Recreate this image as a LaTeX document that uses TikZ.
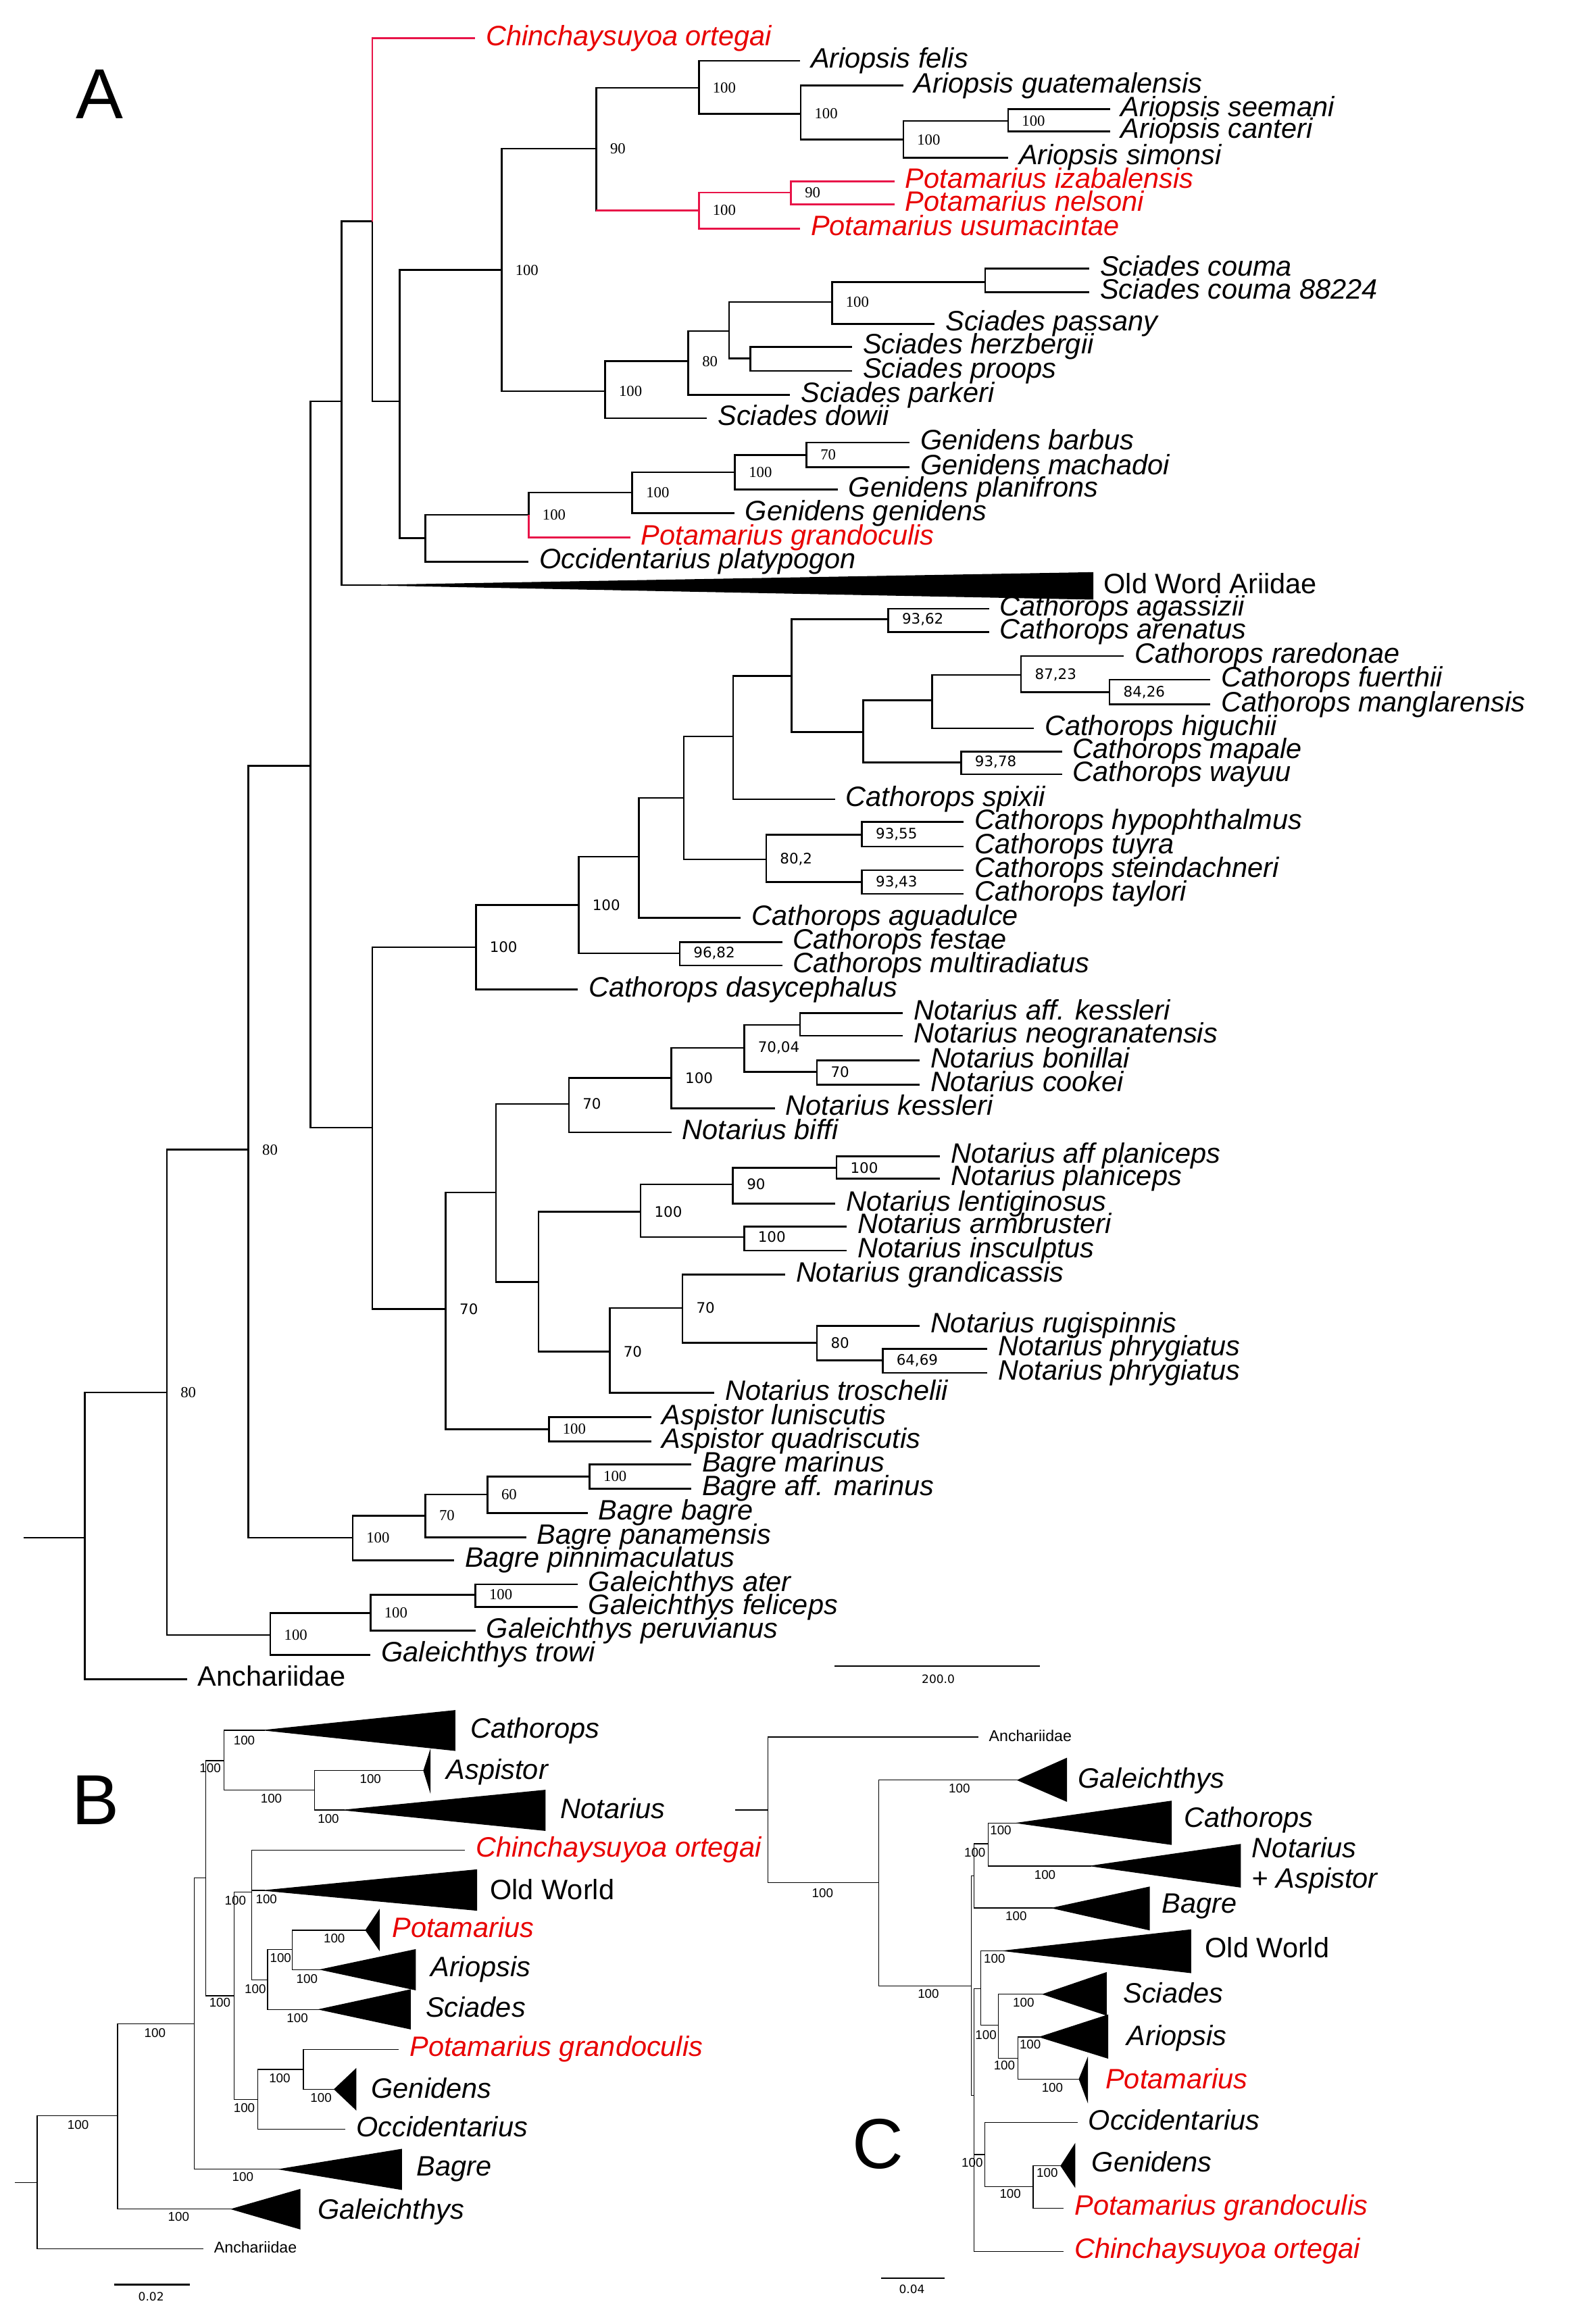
\documentclass[tikz,border=0pt]{standalone}
\usepackage{fontspec}
\setmainfont{Liberation Sans}
\newfontfamily\suprm{Liberation Serif}
\newfontfamily\supsf{DejaVu Sans}
\usetikzlibrary{positioning}
\definecolor{txtred}{RGB}{232,0,0}
\definecolor{brred}{RGB}{232,20,72}

\begin{document}
\begin{tikzpicture}[x=0.5pt, y=-0.5pt,
  br/.style = {line width=0.6pt},
  brR/.style = {br, draw=brred},
  bc/.style = {line width=0.3pt},
  tip/.style = {anchor=west, inner xsep=3.5pt, inner ysep=0pt,
                text height=6.8pt, text depth=2pt,
                font=\fontsize{9.5}{11}\selectfont\itshape},
  tipR/.style = {tip, text=txtred},
  grp/.style = {tip, font=\fontsize{9.5}{11}\selectfont},
  small/.style = {tip, text height=3.9pt, text depth=1.1pt,
                  font=\fontsize{5.3}{6}\selectfont},
  sup/.style = {anchor=west, inner sep=0pt, xshift=4.5pt,
                font=\suprm\fontsize{5.2}{6}\selectfont},
  supS/.style = {sup, font=\supsf\fontsize{4.9}{6}\selectfont},
  bcsup/.style = {inner sep=0pt, font=\fontsize{4.3}{5}\selectfont},
  scl/.style = {inner sep=0pt, font=\supsf\fontsize{3.9}{5}\selectfont},
  clade/.style = {fill=black, draw=black, line width=0.3pt},
  panel/.style = {inner sep=0pt, font=\fontsize{24}{28}\selectfont}
]
\useasboundingbox (0,0) rectangle (1081,1568);

%% ---------------- tree A ----------------
\coordinate (rootA) at (15.8,1042);
\coordinate (n57) at (57.5,1042);
\coordinate (n113) at (113,943.5);
\coordinate (n168) at (168.3,779);
\coordinate (n210) at (210.5,519);
\coordinate (n231) at (231.5,272);
\coordinate (n252) at (252.3,150);
\coordinate (n270) at (270.7,272);
\coordinate (n340) at (339.8,183);
\coordinate (n404) at (404,100.7);
\coordinate (n473a) at (473.5,59.5);
\coordinate (n542) at (542.5,77);
\coordinate (n612) at (612,94.6);
\coordinate (n683) at (683,82);
\coordinate (n473b) at (473.5,142.6);
\coordinate (n536) at (536,130.4);
\coordinate (n410) at (410,265);
\coordinate (n466) at (466.4,244.8);
\coordinate (n494) at (494,224.3);
\coordinate (n564) at (563.7,204.7);
\coordinate (n667) at (667.5,191);
\coordinate (n508) at (508.5,243);
\coordinate (n288) at (288.3,364.6);
\coordinate (n358) at (358.2,348.9);
\coordinate (n428) at (428.4,333.8);
\coordinate (n498) at (498,320);
\coordinate (n546) at (546.5,308.2);
\coordinate (owtip) at (258,396.5);
% Cathorops
\coordinate (nCN) at (252.3,764);
\coordinate (nCath) at (322.4,641.8);
\coordinate (n392) at (392,613.3);
\coordinate (n433) at (432.8,580.5);
\coordinate (n463) at (463.3,540.7);
\coordinate (n497) at (496.7,499);
\coordinate (n536c) at (536.2,458);
\coordinate (n602) at (601.8,419.7);
\coordinate (n585) at (584.8,496);
\coordinate (n632) at (631.5,474.5);
\coordinate (n692) at (691.8,457.3);
\coordinate (n752) at (751.8,469);
\coordinate (n651) at (651.2,516.5);
\coordinate (n519) at (519.1,582.4);
\coordinate (n584a) at (584,565.5);
\coordinate (n584b) at (584,597.7);
\coordinate (n460) at (460.5,646);
% Notarius
\coordinate (nNot) at (302,887);
\coordinate (n336) at (336,808);
\coordinate (n385) at (385.4,748);
\coordinate (n455) at (454.9,730.3);
\coordinate (n504) at (504.2,710);
\coordinate (n542b) at (542.1,694.5);
\coordinate (n553) at (553.5,726.2);
\coordinate (n365) at (364.9,868.7);
\coordinate (n434) at (434,821.1);
\coordinate (n497b) at (496.6,802.5);
\coordinate (n567) at (566.8,791.3);
\coordinate (n504b) at (504.2,838.3);
\coordinate (n413) at (413.1,915.8);
\coordinate (n462) at (462.4,886.3);
\coordinate (n553b) at (553.5,909.8);
\coordinate (n598) at (598,921.9);
\coordinate (nAsp) at (371.9,968.4);
% Bagre, Galeichthys
\coordinate (nBag) at (238.9,1042);
\coordinate (n288b) at (288.2,1027);
\coordinate (n330) at (330.3,1012.6);
\coordinate (n400) at (399.5,1000.5);
\coordinate (nGal) at (183.2,1107.9);
\coordinate (n251) at (251,1093);
\coordinate (n322) at (322.1,1080.6);

\node[panel] (labA) at (67.5,64) {A};

\node[tipR] (chin) at (322,26) {Chinchaysuyoa ortegai};
\node[tip] (felis) at (542,41.2) {Ariopsis felis};
\node[tip] (guat) at (612,58) {Ariopsis guatemalensis};
\node[tip] (seem) at (752,74) {Ariopsis seemani};
\node[tip] (cant) at (752,89) {Ariopsis canteri};
\node[tip] (simo) at (683,106.8) {Ariopsis simonsi};
\node[tipR] (izab) at (606,122.8) {Potamarius izabalensis};
\node[tipR] (nels) at (606,138.4) {Potamarius nelsoni};
\node[tipR] (usum) at (542,154.9) {Potamarius usumacintae};
\node[tip] (coum) at (738,182) {Sciades couma};
\node[tip] (coum2) at (738,198) {Sciades couma 88224};
\node[tip] (pass) at (633.3,219.4) {Sciades passany};
\node[tip] (herz) at (577.3,235) {Sciades herzbergii};
\node[tip] (proo) at (577.3,251.3) {Sciades proops};
\node[tip] (park) at (535.3,267.7) {Sciades parkeri};
\node[tip] (dowi) at (479,283.4) {Sciades dowii};
\node[tip] (barb) at (616.2,299.8) {Genidens barbus};
\node[tip] (mach) at (616.2,316.6) {Genidens machadoi};
\node[tip] (plan) at (567.6,331.8) {Genidens planifrons};
\node[tip] (geni) at (497.5,347.8) {Genidens genidens};
\node[tipR] (gran) at (427,364.3) {Potamarius grandoculis};
\node[tip] (plat) at (358.2,380.6) {Occidentarius platypogon};
\node[grp] (owA) at (740.5,397.5) {Old Word Ariidae};

\node[tip] (agas) at (670,412.4) {Cathorops agassizii};
\node[tip] (aren) at (670,428.2) {Cathorops arenatus};
\node[tip] (rare) at (761.3,444.6) {Cathorops raredonae};
\node[tip] (fuer) at (820,460.6) {Cathorops fuerthii};
\node[tip] (mang) at (820,477.3) {Cathorops manglarensis};
\node[tip] (higu) at (700.5,493.6) {Cathorops higuchii};
\node[tip] (mapa) at (719.5,509.3) {Cathorops mapale};
\node[tip] (wayu) at (719.5,524.7) {Cathorops wayuu};
\node[tip] (spix) at (565.7,541.5) {Cathorops spixii};
\node[tip] (hypo) at (653,557) {Cathorops hypophthalmus};
\node[tip] (tuyr) at (653,573.7) {Cathorops tuyra};
\node[tip] (stei) at (653,589.7) {Cathorops steindachneri};
\node[tip] (tayl) at (653,605.6) {Cathorops taylori};
\node[tip] (agua) at (501.9,622) {Cathorops aguadulce};
\node[tip] (fest) at (530,638.4) {Cathorops festae};
\node[tip] (mult) at (530,654.2) {Cathorops multiradiatus};
\node[tip] (dasy) at (391.5,670.5) {Cathorops dasycephalus};

\node[tip] (akes) at (611.6,686.4) {Notarius aff. kessleri};
\node[tip] (neog) at (611.6,701.8) {Notarius neogranatensis};
\node[tip] (boni) at (623,718.6) {Notarius bonillai};
\node[tip] (cook) at (623,734.9) {Notarius cookei};
\node[tip] (kess) at (525,751) {Notarius kessleri};
\node[tip] (biff) at (454.9,767.2) {Notarius biffi};
\node[tip] (apla) at (637,783.5) {Notarius aff planiceps};
\node[tip] (pla) at (637,798.5) {Notarius planiceps};
\node[tip] (lent) at (566,815.7) {Notarius lentiginosus};
\node[tip] (armb) at (573.6,831.1) {Notarius armbrusteri};
\node[tip] (insc) at (573.6,847.4) {Notarius insculptus};
\node[tip] (grca) at (531.9,863.7) {Notarius grandicassis};
\node[tip] (rugi) at (623,898.4) {Notarius rugispinnis};
\node[tip] (phr1) at (669,914) {Notarius phrygiatus};
\node[tip] (phr2) at (669,930.2) {Notarius phrygiatus};
\node[tip] (tros) at (484,943.8) {Notarius troschelii};
\node[tip] (luni) at (441.1,960.3) {Aspistor luniscutis};
\node[tip] (quad) at (441.1,976.7) {Aspistor quadriscutis};

\node[tip] (bmar) at (468.3,992.4) {Bagre marinus};
\node[tip] (bamr) at (468.3,1008.7) {Bagre aff. marinus};
\node[tip] (bbag) at (398.2,1025.2) {Bagre bagre};
\node[tip] (bpan) at (356.5,1041.7) {Bagre panamensis};
\node[tip] (bpin) at (307.6,1057.2) {Bagre pinnimaculatus};
\node[tip] (gate) at (391.3,1073.5) {Galeichthys ater};
\node[tip] (gfel) at (391.3,1088.9) {Galeichthys feliceps};
\node[tip] (gper) at (322.1,1105) {Galeichthys peruvianus};
\node[tip] (gtro) at (251,1121.3) {Galeichthys trowi};
\node[grp] (anA) at (126.7,1137.8) {Anchariidae};

\draw[br] (rootA) -- (n57)
  (n57) |- (n113) (n57) |- (anA)
  (n113) |- (n168) (n113) |- (nGal)
  (n168) |- (n210) (n168) |- (nBag)
  (n210) |- (n231) (n210) |- (nCN)
  (n231) |- (n252) (n231) |- (owtip)
  (n252) |- (n270)
  (n270) |- (n340) (n270) |- (n288)
  (n340) |- (n404) (n340) |- (n410)
  (n404) |- (n473a) (n404) |- (n473b)
  (n473a) |- (felis) (n473a) |- (n542)
  (n542) |- (guat) (n542) |- (n612)
  (n612) |- (n683) (n612) |- (simo)
  (n683) |- (seem) (n683) |- (cant)
  (n410) |- (n466) (n410) |- (dowi)
  (n466) |- (n494) (n466) |- (park)
  (n494) |- (n564) (n494) |- (n508)
  (n564) |- (n667) (n564) |- (pass)
  (n667) |- (coum) (n667) |- (coum2)
  (n508) |- (herz) (n508) |- (proo)
  (n288) |- (n358) (n288) |- (plat)
  (n358) |- (n428)
  (n428) |- (n498) (n428) |- (geni)
  (n498) |- (n546) (n498) |- (plan)
  (n546) |- (barb) (n546) |- (mach);
\draw[br] (nCN) |- (nCath) (nCN) |- (nNot)
  (nCath) |- (n392) (nCath) |- (dasy)
  (n392) |- (n433) (n392) |- (n460)
  (n433) |- (n463) (n433) |- (agua)
  (n463) |- (n497) (n463) |- (n519)
  (n497) |- (n536c) (n497) |- (spix)
  (n536c) |- (n602) (n536c) |- (n585)
  (n602) |- (agas) (n602) |- (aren)
  (n585) |- (n632) (n585) |- (n651)
  (n632) |- (n692) (n632) |- (higu)
  (n692) |- (rare) (n692) |- (n752)
  (n752) |- (fuer) (n752) |- (mang)
  (n651) |- (mapa) (n651) |- (wayu)
  (n519) |- (n584a) (n519) |- (n584b)
  (n584a) |- (hypo) (n584a) |- (tuyr)
  (n584b) |- (stei) (n584b) |- (tayl)
  (n460) |- (fest) (n460) |- (mult);
\draw[br] (nNot) |- (n336) (nNot) |- (nAsp)
  (n336) |- (n385) (n336) |- (n365)
  (n385) |- (n455) (n385) |- (biff)
  (n455) |- (n504) (n455) |- (kess)
  (n504) |- (n542b) (n504) |- (n553)
  (n542b) |- (akes) (n542b) |- (neog)
  (n553) |- (boni) (n553) |- (cook)
  (n365) |- (n434) (n365) |- (n413)
  (n434) |- (n497b) (n434) |- (n504b)
  (n497b) |- (n567) (n497b) |- (lent)
  (n567) |- (apla) (n567) |- (pla)
  (n504b) |- (armb) (n504b) |- (insc)
  (n413) |- (n462) (n413) |- (tros)
  (n462) |- (grca) (n462) |- (n553b)
  (n553b) |- (rugi) (n553b) |- (n598)
  (n598) |- (phr1) (n598) |- (phr2)
  (nAsp) |- (luni) (nAsp) |- (quad);
\draw[br] (nBag) |- (n288b) (nBag) |- (bpin)
  (n288b) |- (n330) (n288b) |- (bpan)
  (n330) |- (n400) (n330) |- (bbag)
  (n400) |- (bmar) (n400) |- (bamr)
  (nGal) |- (n251) (nGal) |- (gtro)
  (n251) |- (n322) (n251) |- (gper)
  (n322) |- (gate) (n322) |- (gfel);
% red lineages
\draw[brR] (n252) |- (chin)
  (n404 |- n473b) -- (n473b)
  (n473b) |- (n536) (n473b) |- (usum)
  (n536) |- (izab) (n536) |- (nels)
  (n358) |- (gran);
\fill[clade] (owtip) -- (740.5,388) -- (740.5,406) -- cycle;

\node[sup] (s404) at (n404) {90};
\node[sup] (s473a) at (n473a) {100};
\node[sup] (s542) at (n542) {100};
\node[sup] (s612) at (n612) {100};
\node[sup] (s683) at (n683) {100};
\node[sup] (s473b) at (n473b) {100};
\node[sup] (s536) at (n536) {90};
\node[sup] (s340) at (n340) {100};
\node[sup] (s410) at (n410) {100};
\node[sup] (s466) at (n466) {80};
\node[sup] (s564) at (n564) {100};
\node[sup] (s358) at (n358) {100};
\node[sup] (s428) at (n428) {100};
\node[sup] (s498) at (n498) {100};
\node[sup] (s546) at (n546) {70};
\node[supS] (s602) at (n602) {93,62};
\node[supS] (s692) at (n692) {87,23};
\node[supS] (s752) at (n752) {84,26};
\node[supS] (s651) at (n651) {93,78};
\node[supS] (s519) at (n519) {80,2};
\node[supS] (s584a) at (n584a) {93,55};
\node[supS] (s584b) at (n584b) {93,43};
\node[supS] (s392) at (n392) {100};
\node[supS] (sCath) at (nCath) {100};
\node[supS] (s460) at (n460) {96,82};
\node[supS] (s385) at (n385) {70};
\node[supS] (s455) at (n455) {100};
\node[supS] (s504) at (n504) {70,04};
\node[supS] (s553) at (n553) {70};
\node[supS] (s497b) at (n497b) {90};
\node[supS] (s567) at (n567) {100};
\node[supS] (s434) at (n434) {100};
\node[supS] (s504b) at (n504b) {100};
\node[supS] (sNot) at (nNot) {70};
\node[supS] (s462) at (n462) {70};
\node[supS] (s413) at (n413) {70};
\node[supS] (s553b) at (n553b) {80};
\node[supS] (s598) at (n598) {64,69};
\node[sup] (sAsp) at (nAsp) {100};
\node[sup] (s400) at (n400) {100};
\node[sup] (s330) at (n330) {60};
\node[sup] (s288b) at (n288b) {70};
\node[sup] (sBag) at (nBag) {100};
\node[sup] (s322) at (n322) {100};
\node[sup] (s251) at (n251) {100};
\node[sup] (sGal) at (nGal) {100};
\node[sup] (s168) at (n168) {80};
\node[sup] (s113) at (n113) {80};

\coordinate (sbA1) at (565.5,1128.9);
\coordinate (sbA2) at (704.4,1128.9);
\draw[line width=0.4pt] (sbA1) -- (sbA2);
\node[scl] (sbAl) at (635.7,1138) {200.0};

%% ---------------- tree B ----------------
\node[panel] (labB) at (64.6,1220) {B};
\coordinate (rootB) at (10,1479);
\coordinate (nB0) at (25.2,1479);
\coordinate (nB1) at (79.6,1433.7);
\coordinate (nB2) at (131.6,1371.2);
\coordinate (nB3) at (139.3,1272.6);
\coordinate (nB4) at (151.8,1193);
\coordinate (nB6) at (213.2,1213.1);
\coordinate (nB5) at (158.5,1352.4);
\coordinate (nB7) at (170.5,1282.2);
\coordinate (nB9) at (181.3,1341.7);
\coordinate (nB10) at (198.1,1321.1);
\coordinate (nB8) at (174.6,1422.6);
\coordinate (nB11) at (205.5,1402.3);
\coordinate (cathB) at (179.6,1172.4);
\coordinate (aspB) at (287.1,1199.8);
\coordinate (notB) at (233.4,1226.5);
\coordinate (owB) at (179.6,1281);
\coordinate (potB) at (247.8,1307.9);
\coordinate (ariB) at (217.6,1334.6);
\coordinate (sciB) at (216.6,1361.6);
\coordinate (genB) at (226.6,1415.7);
\coordinate (bagB) at (189.7,1469.9);
\coordinate (galB) at (157.1,1496.9);

\node[tipR] (chinB) at (315,1253.7) {Chinchaysuyoa ortegai};
\node[tipR] (granB) at (270.3,1388.7) {Potamarius grandoculis};
\node[tip] (occB) at (234,1442.9) {Occidentarius};
\node[small] (anB) at (137.7,1523.7) {Anchariidae};

\draw[bc] (rootB) -- (nB0)
  (nB0) |- (nB1) (nB0) |- (anB)
  (nB1) |- (nB2) (nB1) |- (galB)
  (nB2) |- (nB3) (nB2) |- (bagB)
  (nB3) |- (nB4) (nB3) |- (nB5)
  (nB4) |- (cathB) (nB4) |- (nB6)
  (nB6) |- (aspB) (nB6) |- (notB)
  (nB5) |- (nB7) (nB5) |- (nB8)
  (nB7) |- (chinB) (nB7) |- (owB) (nB7) |- (nB9)
  (nB9) |- (nB10) (nB9) |- (sciB)
  (nB10) |- (potB) (nB10) |- (ariB)
  (nB8) |- (nB11) (nB8) |- (occB)
  (nB11) |- (granB) (nB11) |- (genB);
\fill[clade] (cathB) -- (308.2,1159.1) -- (308.2,1186.1) -- cycle;
\fill[clade] (aspB) -- (291.4,1186.6) -- (291.4,1213.6) -- cycle;
\fill[clade] (notB) -- (369.3,1213.1) -- (369.3,1240.3) -- cycle;
\fill[clade] (owB) -- (323,1267) -- (323,1294.4) -- cycle;
\fill[clade] (potB) -- (256.9,1294.4) -- (256.9,1321.1) -- cycle;
\fill[clade] (ariB) -- (281.4,1321.1) -- (281.4,1348.3) -- cycle;
\fill[clade] (sciB) -- (278,1348.3) -- (278,1374.8) -- cycle;
\fill[clade] (genB) -- (241.1,1402) -- (241.1,1429.4) -- cycle;
\fill[clade] (bagB) -- (272,1456.4) -- (272,1483.6) -- cycle;
\fill[clade] (galB) -- (203.2,1483.6) -- (203.2,1510.3) -- cycle;

\node[tip] (cathBl) at (311.3,1173) {Cathorops};
\node[tip] (aspBl) at (295.2,1200.6) {Aspistor};
\node[tip] (notBl) at (372.4,1227.3) {Notarius};
\node[grp] (owBl) at (324.7,1282.2) {Old World};
\node[tipR] (potBl) at (258.3,1308) {Potamarius};
\node[tip] (ariBl) at (284.4,1334.3) {Ariopsis};
\node[tip] (sciBl) at (281.1,1362) {Sciades};
\node[tip] (genBl) at (244.2,1417) {Genidens};
\node[tip] (bagBl) at (275,1469.5) {Bagre};
\node[tip] (galBl) at (207.9,1499) {Galeichthys};

\node[bcsup] (b1) at (52.9,1440) {100};
\node[bcsup] (b2) at (105,1377.6) {100};
\node[bcsup] (b3) at (121,1501.9) {100};
\node[bcsup] (b4) at (164.5,1475.2) {100};
\node[bcsup] (b5) at (165.5,1179.3) {100};
\node[bcsup] (b6) at (142.4,1198.3) {100};
\node[bcsup] (b7) at (183.8,1218.9) {100};
\node[bcsup] (b8) at (251,1205.2) {100};
\node[bcsup] (b9) at (222.5,1232.3) {100};
\node[bcsup] (b10) at (149,1357) {100};
\node[bcsup] (b11) at (165.5,1428.2) {100};
\node[bcsup] (b12) at (159.5,1287.6) {100};
\node[bcsup] (b13) at (180.5,1286.8) {100};
\node[bcsup] (b14) at (173,1347.8) {100};
\node[bcsup] (b15) at (190.1,1326.9) {100};
\node[bcsup] (b16) at (226.5,1313.5) {100};
\node[bcsup] (b17) at (208,1341) {100};
\node[bcsup] (b18) at (201.5,1367.6) {100};
\node[bcsup] (b19) at (189.5,1408) {100};
\node[bcsup] (b20) at (217.5,1421.5) {100};

\coordinate (sbB1) at (77.2,1548.1);
\coordinate (sbB2) at (128.6,1548.1);
\draw[line width=0.5pt] (sbB1) -- (sbB2);
\node[scl] (sbBl) at (102.4,1556.1) {0.02};

%% ---------------- tree C ----------------
\node[panel] (labC) at (595,1453) {C};
\coordinate (rootC) at (498,1226.5);
\coordinate (nC0) at (520.4,1226.5);
\coordinate (nC1) at (595.3,1275.8);
\coordinate (nC2) at (658,1345.8);
\coordinate (nC3) at (660,1271);
\coordinate (nC5) at (669.4,1249.4);
\coordinate (nC4) at (660,1420);
\coordinate (nC6) at (664.5,1347.4);
\coordinate (nC8) at (676.5,1372.2);
\coordinate (nC9) at (689.6,1394.6);
\coordinate (nC7) at (667.2,1460);
\coordinate (nC10) at (700,1481.6);
\coordinate (galC) at (689.6,1206.2);
\coordinate (cathC) at (689.6,1235.3);
\coordinate (notC) at (739.4,1264.4);
\coordinate (bagC) at (713.2,1292.9);
\coordinate (owC) at (680.6,1321.9);
\coordinate (sciC) at (706.8,1351.3);
\coordinate (ariC) at (704.6,1380.3);
\coordinate (potC) at (731.2,1408.8);
\coordinate (genC) at (718.8,1467.6);

\node[small] (anC) at (662.7,1177) {Anchariidae};
\node[tip] (occC) at (730,1438.3) {Occidentarius};
\node[tipR] (granC) at (720.7,1496.2) {Potamarius grandoculis};
\node[tipR] (chinC) at (720.7,1525.5) {Chinchaysuyoa ortegai};

\draw[bc] (rootC) -- (nC0)
  (nC0) |- (anC) (nC0) |- (nC1)
  (nC1) |- (galC) (nC1) |- (nC2)
  (nC2) |- (nC3) (nC2) |- (nC4)
  (nC3) |- (nC5) (nC3) |- (bagC)
  (nC5) |- (cathC) (nC5) |- (notC)
  (nC4) |- (nC6) (nC4) |- (nC7) (nC4) |- (chinC)
  (nC6) |- (owC) (nC6) |- (nC8)
  (nC8) |- (sciC) (nC8) |- (nC9)
  (nC9) |- (ariC) (nC9) |- (potC)
  (nC7) |- (occC) (nC7) |- (nC10)
  (nC10) |- (genC) (nC10) |- (granC);
\fill[clade] (galC) -- (722.6,1191.5) -- (722.6,1220.5) -- cycle;
\fill[clade] (cathC) -- (793.6,1220.5) -- (793.6,1249.8) -- cycle;
\fill[clade] (notC) -- (840.4,1249.8) -- (840.4,1278.7) -- cycle;
\fill[clade] (bagC) -- (778.7,1278.7) -- (778.7,1307.7) -- cycle;
\fill[clade] (owC) -- (806.7,1307.7) -- (806.7,1336.7) -- cycle;
\fill[clade] (sciC) -- (749.5,1336.7) -- (749.5,1365.4) -- cycle;
\fill[clade] (ariC) -- (750.6,1365.4) -- (750.6,1394.6) -- cycle;
\fill[clade] (potC) -- (736.8,1395) -- (736.8,1423.7) -- cycle;
\fill[clade] (genC) -- (728.2,1453.1) -- (728.2,1481.6) -- cycle;

\node[tip] (galCl) at (723,1206.7) {Galeichthys};
\node[tip] (cathCl) at (794.8,1233.4) {Cathorops};
\node[tip] (notCl) at (840.9,1254) {Notarius};
\node[tip] (aspCl) at (840.9,1274.6) {+ Aspistor};
\node[tip] (bagCl) at (779.9,1291.4) {Bagre};
\node[grp] (owCl) at (809.1,1321.9) {Old World};
\node[tip] (sciCl) at (753.7,1352.4) {Sciades};
\node[tip] (ariCl) at (756,1381.4) {Ariopsis};
\node[tipR] (potCl) at (741.7,1410.4) {Potamarius};
\node[tip] (genCl) at (732.4,1466.8) {Genidens};

\node[bcsup] (c1) at (557.3,1283) {100};
\node[bcsup] (c2) at (650,1211.8) {100};
\node[bcsup] (c3) at (629,1350.9) {100};
\node[bcsup] (c4) at (660.5,1255.5) {100};
\node[bcsup] (c5) at (678,1240.3) {100};
\node[bcsup] (c6) at (708,1270.3) {100};
\node[bcsup] (c7) at (688.5,1298.3) {100};
\node[bcsup] (c8) at (673.8,1327.2) {100};
\node[bcsup] (c9) at (693.5,1357) {100};
\node[bcsup] (c10) at (668,1379) {100};
\node[bcsup] (c11) at (680.5,1399.7) {100};
\node[bcsup] (c12) at (698,1385.2) {100};
\node[bcsup] (c13) at (713,1414.5) {100};
\node[bcsup] (c14) at (658.7,1465.3) {100};
\node[bcsup] (c15) at (684.5,1486.6) {100};
\node[bcsup] (c16) at (709.5,1472.2) {100};

\coordinate (sbC1) at (597.2,1543.6);
\coordinate (sbC2) at (640.2,1543.6);
\draw[line width=0.5pt] (sbC1) -- (sbC2);
\node[scl] (sbCl) at (617.8,1551.2) {0.04};
\end{tikzpicture}
\end{document}
